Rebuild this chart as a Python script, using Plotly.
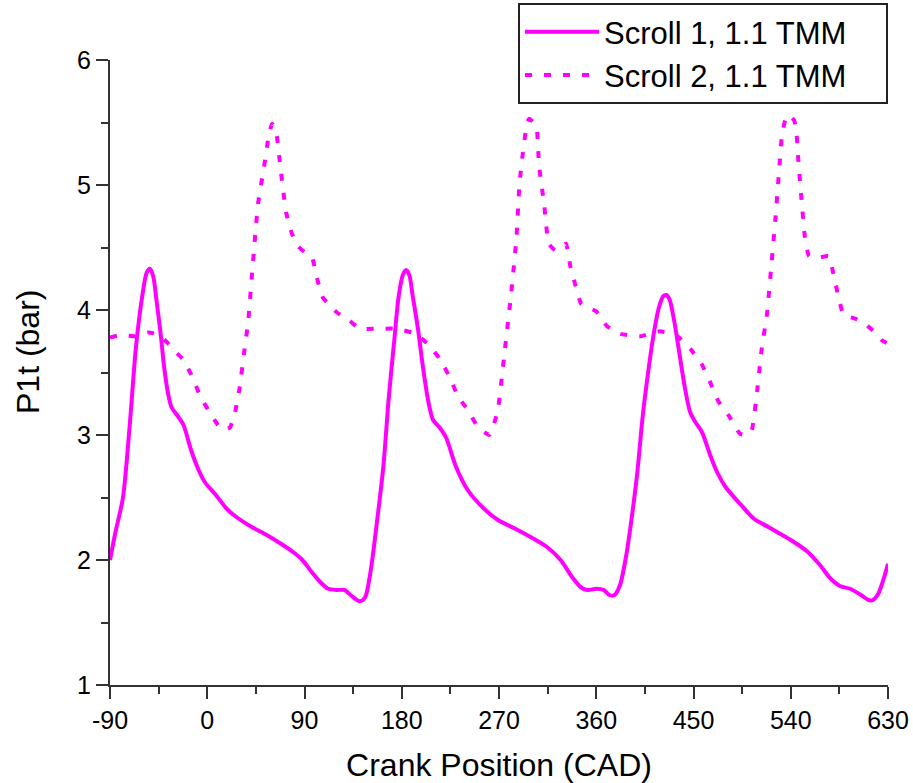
import plotly.graph_objects as go

# Scroll 1, 1.1 TMM (solid)
s1_x = [-90, -85, -78, -72, -66, -60, -56, -53, -50, -47, -43, -40, -36, -33, -28, -22, -15, -8, -2,
        8, 18, 26, 40, 55, 70, 80, 88, 97, 105, 112, 120, 127, 134, 141, 146, 151, 157, 163, 168,
        173, 177, 181, 184, 187, 190, 195, 200, 205, 209, 215, 221, 230, 241, 255, 269, 285, 300,
        315, 327, 338, 346, 352, 360, 367, 372, 377, 382, 388, 393, 398, 403, 408, 413, 418, 422,
        425, 428, 432, 437, 442, 447, 452, 458, 465, 472, 480, 493, 506, 520, 540, 555, 567, 577,
        586, 595, 605, 612, 616, 621, 626, 630]
s1_y = [2.00, 2.22, 2.50, 3.05, 3.70, 4.12, 4.30, 4.33, 4.27, 4.08, 3.80, 3.55, 3.32, 3.22, 3.16,
        3.08, 2.88, 2.72, 2.62, 2.52, 2.41, 2.35, 2.27, 2.20, 2.12, 2.06, 2.00, 1.90, 1.82, 1.77,
        1.76, 1.76, 1.71, 1.67, 1.70, 1.90, 2.30, 2.75, 3.30, 3.75, 4.10, 4.28, 4.32, 4.28, 4.12,
        3.85, 3.52, 3.25, 3.12, 3.06, 2.98, 2.75, 2.56, 2.42, 2.32, 2.25, 2.18, 2.10, 2.00, 1.86,
        1.78, 1.76, 1.77, 1.76, 1.72, 1.72, 1.80, 2.05, 2.35, 2.70, 3.15, 3.50, 3.80, 4.02, 4.11,
        4.12, 4.08, 3.92, 3.65, 3.38, 3.18, 3.10, 3.02, 2.85, 2.70, 2.58, 2.45, 2.33, 2.26, 2.16,
        2.07, 1.96, 1.85, 1.79, 1.77, 1.72, 1.68, 1.68, 1.73, 1.85, 1.97]

# Scroll 2, 1.1 TMM (dotted)
s2_x = [-90, -80, -66, -55, -48, -42, -36, -30, -23, -14, -7, 3, 10, 15, 21, 25, 30, 34, 38, 42, 47,
        53, 57, 60, 64, 68, 73, 78, 84, 92, 97, 102, 107, 113, 120, 131, 141, 156, 175, 193, 205,
        216, 225, 232, 241, 250, 257, 261, 265, 269, 275, 281, 286, 289, 292, 296, 298, 302, 305,
        307, 312, 316, 322, 328, 332, 336, 341, 346, 352, 360, 370, 382, 401, 419, 435, 447, 458,
        466, 473, 483, 493, 500, 504, 509, 513, 518, 522, 526, 529, 532, 536, 538, 543, 545, 547,
        550, 553, 557, 566, 575, 580, 584, 589, 600, 610, 618, 624, 630]
s2_y = [3.78, 3.80, 3.79, 3.82, 3.81, 3.78, 3.73, 3.67, 3.61, 3.47, 3.32, 3.17, 3.08, 3.04, 3.06,
        3.15, 3.38, 3.65, 3.92, 4.35, 4.85, 5.17, 5.40, 5.49, 5.41, 5.12, 4.78, 4.62, 4.51, 4.45,
        4.42, 4.24, 4.10, 4.04, 3.98, 3.92, 3.85, 3.85, 3.85, 3.81, 3.72, 3.60, 3.45, 3.31, 3.20,
        3.07, 3.02, 3.00, 3.08, 3.20, 3.65, 4.11, 4.56, 5.01, 5.25, 5.50, 5.53, 5.50, 5.45, 5.16,
        4.83, 4.53, 4.48, 4.50, 4.53, 4.35, 4.19, 4.05, 4.02, 3.99, 3.87, 3.81, 3.79, 3.83, 3.79,
        3.69, 3.56, 3.41, 3.27, 3.15, 3.01, 3.00, 3.04, 3.36, 3.68, 3.97, 4.35, 4.75, 5.09, 5.41,
        5.55, 5.56, 5.52, 5.45, 5.20, 4.88, 4.59, 4.43, 4.42, 4.43, 4.27, 4.11, 3.96, 3.93, 3.88,
        3.82, 3.76, 3.73]

x_ticks = [-90, 0, 90, 180, 270, 360, 450, 540, 630]
y_ticks = [1, 2, 3, 4, 5, 6]
series_names = ["Scroll 1, 1.1 TMM", "Scroll 2, 1.1 TMM"]

MAG = "#FF00FF"
FONT = "Liberation Sans, Arial, sans-serif"
PAD = "\u00a0" * 4  # right padding inside the legend box

fig = go.Figure()
fig.add_trace(go.Scatter(x=s1_x, y=s1_y, mode="lines", name=series_names[0] + PAD,
                         line=dict(color=MAG, width=4, shape="spline", smoothing=0.8)))
fig.add_trace(go.Scatter(x=s2_x, y=s2_y, mode="lines", name=series_names[1] + PAD,
                         line=dict(color=MAG, width=4, dash="7px,12px", shape="spline", smoothing=0.4)))

axis_common = dict(showline=True, linecolor="#333333", linewidth=2, ticks="outside",
                   ticklen=12, tickwidth=2, tickcolor="#333333", showgrid=False, zeroline=False,
                   mirror=False, automargin=False,
                   tickfont=dict(family=FONT, size=25, color="#000000"))

fig.update_xaxes(range=[-90, 630], tickmode="array", tickvals=x_ticks,
                 ticktext=[str(v) for v in x_ticks],
                 minor=dict(dtick=45, tick0=-90, ticks="outside", ticklen=7, tickwidth=2,
                            tickcolor="#333333"),
                 title=dict(text="Crank Position (CAD)", font=dict(family=FONT, size=32, color="#000"),
                            standoff=22),
                 **axis_common)
fig.update_yaxes(range=[1, 6], tickmode="array", tickvals=y_ticks,
                 ticktext=[str(v) for v in y_ticks],
                 minor=dict(dtick=0.5, tick0=1, ticks="outside", ticklen=7, tickwidth=2,
                            tickcolor="#333333"),
                 ticklabelstandoff=0,
                 **axis_common)

fig.add_annotation(text="P1t (bar)", textangle=-90, xref="paper", yref="paper",
                   x=(28 - 110) / 778, y=(685 - 352) / 625, xanchor="center", yanchor="middle",
                   showarrow=False, font=dict(family=FONT, size=32, color="#000"))

fig.update_layout(
    width=913, height=783,
    margin=dict(l=110, r=25, t=60, b=98, autoexpand=False),
    plot_bgcolor="white", paper_bgcolor="white",
    showlegend=True,
    legend=dict(x=1, y=(685 - 3) / 625, xanchor="right", yanchor="top",
                bgcolor="white", bordercolor="#222222", borderwidth=2,
                font=dict(family=FONT, size=31, color="#000"),
                itemwidth=74, tracegroupgap=0),
)

fig.write_html("out.html", config={"displayModeBar": False},
               post_script="document.body.style.margin='0px';")
